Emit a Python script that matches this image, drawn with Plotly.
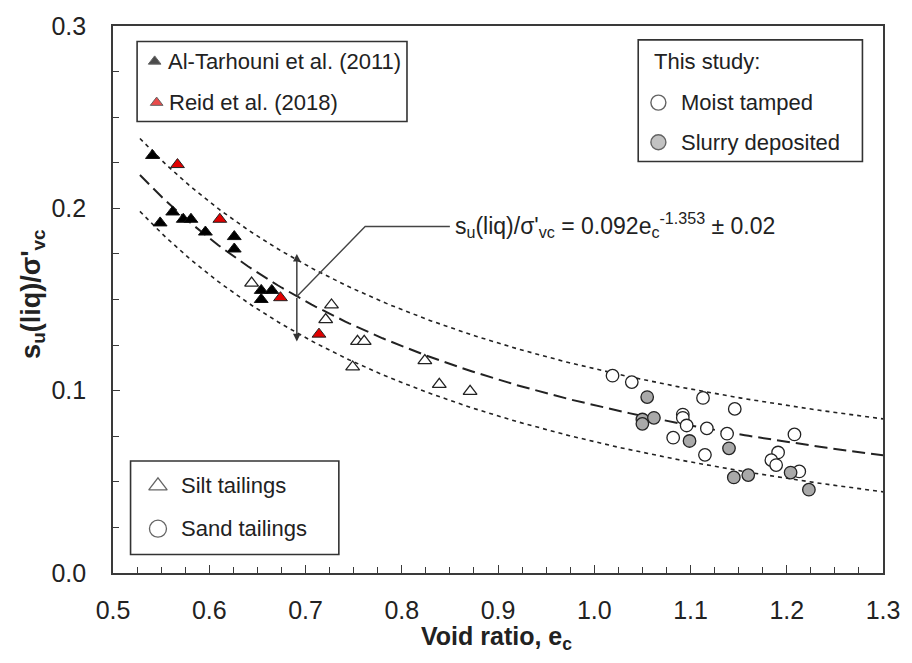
import numpy as np
import plotly.graph_objects as go

# ---------------- data ----------------
tarhouni_e = [0.541, 0.549, 0.562, 0.573, 0.581, 0.596, 0.626, 0.626, 0.654, 0.654, 0.665]
tarhouni_s = [0.229, 0.192, 0.198, 0.194, 0.194, 0.187, 0.1845, 0.1777, 0.155, 0.150, 0.155]

reid_e = [0.567, 0.611, 0.674, 0.714]
reid_s = [0.224, 0.194, 0.151, 0.131]

silt_e = [0.644, 0.727, 0.721, 0.754, 0.761, 0.749, 0.824, 0.839, 0.871]
silt_s = [0.159, 0.147, 0.139, 0.127, 0.127, 0.113, 0.1165, 0.1035, 0.0996]

moist_e = [1.019, 1.039, 1.113, 1.146, 1.092, 1.092, 1.096, 1.117, 1.138, 1.082,
           1.208, 1.115, 1.191, 1.184, 1.189, 1.213]
moist_s = [0.1082, 0.1047, 0.0960, 0.0900, 0.0869, 0.0851, 0.0809, 0.0793, 0.0764, 0.0742,
           0.0760, 0.0648, 0.0661, 0.0619, 0.0592, 0.0557]

slurry_e = [1.055, 1.050, 1.050, 1.062, 1.099, 1.140, 1.145, 1.160, 1.204, 1.223]
slurry_s = [0.0965, 0.0842, 0.0818, 0.0851, 0.0724, 0.0684, 0.0524, 0.0537, 0.0551, 0.0457]

# fitted relation: s = a * e^b  +/- band
fit_a, fit_b, fit_band = 0.092, -1.353, 0.02
fit_range = [0.528, 1.3]

x_ticks = [0.5, 0.6, 0.7, 0.8, 0.9, 1.0, 1.1, 1.2, 1.3]
y_ticks = [0.0, 0.1, 0.2, 0.3]

FONT = "Liberation Sans, Arial, sans-serif"
INK = "#222222"
AXC = "#3a3a3a"

fig = go.Figure()

# fit curves
ef = np.linspace(fit_range[0], fit_range[1], 200)
sf = fit_a * ef ** fit_b
fig.add_trace(go.Scatter(x=ef, y=sf + fit_band, mode="lines",
                         line=dict(color="#222", width=1.6, dash="4px,4px"), hoverinfo="skip"))
fig.add_trace(go.Scatter(x=ef, y=sf - fit_band, mode="lines",
                         line=dict(color="#222", width=1.6, dash="4px,4px"), hoverinfo="skip"))
fig.add_trace(go.Scatter(x=ef, y=sf, mode="lines",
                         line=dict(color="#222", width=2, dash="13px,6px"), hoverinfo="skip"))

# leader line for equation
arrow_e = 0.691
lead_x = [arrow_e, 0.762, 0.850]
lead_y = [fit_a * arrow_e ** fit_b, 0.190, 0.190]
fig.add_trace(go.Scatter(x=lead_x, y=lead_y, mode="lines",
                         line=dict(color="#444", width=1.4), hoverinfo="skip"))

# data markers
fig.add_trace(go.Scatter(x=silt_e, y=silt_s, mode="markers", name="Silt tailings",
                         marker=dict(symbol="triangle-up", size=12, color="white",
                                     line=dict(color="#222", width=1.3))))
fig.add_trace(go.Scatter(x=moist_e, y=moist_s, mode="markers", name="Moist tamped",
                         marker=dict(symbol="circle", size=12.5, color="white",
                                     line=dict(color="#222", width=1.3))))
fig.add_trace(go.Scatter(x=slurry_e, y=slurry_s, mode="markers", name="Slurry deposited",
                         marker=dict(symbol="circle", size=12.5, color="#a9a9a9",
                                     line=dict(color="#222", width=1.3))))
fig.add_trace(go.Scatter(x=tarhouni_e, y=tarhouni_s, mode="markers", name="Al-Tarhouni et al. (2011)",
                         marker=dict(symbol="triangle-up", size=12, color="black",
                                     line=dict(color="#111", width=1))))
fig.add_trace(go.Scatter(x=reid_e, y=reid_s, mode="markers", name="Reid et al. (2018)",
                         marker=dict(symbol="triangle-up", size=12, color="#e00000",
                                     line=dict(color="#222", width=1))))

# ---------- legend glyphs on an overlay (0..1) axis pair ----------
leg_x = [0.0541, 0.0567, 0.7083, 0.7083, 0.0584, 0.0584]
leg_y = [0.9353, 0.860, 0.860, 0.7875, 0.1594, 0.081]
leg_sym = ["triangle-up", "triangle-up", "circle", "circle", "triangle-up-open", "circle-open"]
leg_size = [11, 11, 15, 15, 16, 17]
leg_fill = ["black", "#e00000", "white", "#a9a9a9", "#222", "#222"]
leg_line = [1, 1, 1.4, 1.4, 1.3, 1.3]
fig.add_trace(go.Scatter(x=leg_x, y=leg_y, mode="markers", xaxis="x2", yaxis="y2",
                         marker=dict(symbol=leg_sym, size=leg_size, color=leg_fill,
                                     line=dict(color="#222", width=leg_line)),
                         hoverinfo="skip"))

shapes = [
    dict(type="rect", xref="paper", yref="paper", x0=0.0313, x1=0.3818, y0=0.8255, y1=0.9716,
         line=dict(color="#333", width=1.6), fillcolor="white", layer="below"),
    dict(type="rect", xref="paper", yref="paper", x0=0.6821, x1=0.9733, y0=0.7524, y1=0.9746,
         line=dict(color="#333", width=1.6), fillcolor="white", layer="below"),
    dict(type="rect", xref="paper", yref="paper", x0=0.0228, x1=0.2933, y0=0.0339, y1=0.2047,
         line=dict(color="#333", width=1.6), fillcolor="white", layer="below"),
]

lf = dict(family=FONT, size=22, color=INK)
annotations = [
    dict(x=0.0692, y=0.9353, text="Al-Tarhouni et al. (2011)"),
    dict(x=0.0696, y=0.860, text="Reid et al. (2018)"),
    dict(x=0.6997, y=0.9353, text="This study:"),
    dict(x=0.7349, y=0.860, text="Moist tamped"),
    dict(x=0.7349, y=0.7875, text="Slurry deposited"),
    dict(x=0.0854, y=0.1594, text="Silt tailings"),
    dict(x=0.0854, y=0.081, text="Sand tailings"),
]
for a in annotations:
    a.update(xref="paper", yref="paper", xanchor="left", yanchor="middle",
             showarrow=False, font=lf)

# equation
annotations.append(dict(x=0.853, y=0.191, xref="x", yref="y", xanchor="left", yanchor="middle",
                        showarrow=False, font=dict(family=FONT, size=23, color=INK),
                        text="s<sub>u</sub>(liq)/σ'<sub>vc</sub> = 0.092e<sub>c</sub><sup>-1.353</sup> ± 0.02"))
# double arrow
for tip in (0.175, 0.127):
    annotations.append(dict(x=arrow_e, y=tip, ax=arrow_e, ay=fit_a * arrow_e ** fit_b,
                            xref="x", yref="y", axref="x", ayref="y", text="",
                            showarrow=True, arrowhead=2, arrowsize=1.1, arrowwidth=1.4,
                            arrowcolor="#333"))
# axis titles
annotations.append(dict(x=0.4987, y=-0.118, xref="paper", yref="paper", showarrow=False,
                        xanchor="center", yanchor="middle",
                        font=dict(family=FONT, size=25, color=INK),
                        text="<b>Void ratio, e<sub>c</sub></b>"))
annotations.append(dict(x=-0.1048, y=0.509, xref="paper", yref="paper", showarrow=False,
                        xanchor="center", yanchor="middle", textangle=-90,
                        font=dict(family=FONT, size=27, color=INK),
                        text="<b>s<sub>u</sub>(liq)/σ'<sub>vc</sub></b>"))

fig.update_layout(
    width=912, height=663,
    margin=dict(l=113, r=23, t=21, b=90),
    paper_bgcolor="white", plot_bgcolor="white",
    showlegend=False,
    shapes=shapes,
    annotations=annotations,
    font=dict(family=FONT, color=INK),
    xaxis=dict(range=[0.5, 1.3], tickvals=x_ticks, ticktext=[f"{v:.1f}" for v in x_ticks],
               showgrid=False, zeroline=False, showline=True, linecolor=AXC, linewidth=1.6,
               mirror=True, ticks="inside", ticklen=8, tickwidth=1.3, tickcolor=AXC,
               tickfont=dict(family=FONT, size=25, color=INK), ticklabelstandoff=14,
               minor=dict(dtick=0.025, ticks="inside", ticklen=6, tickwidth=1.2, tickcolor=AXC)),
    yaxis=dict(range=[0, 0.3], tickvals=y_ticks, ticktext=[f"{v:.1f}" for v in y_ticks],
               showgrid=False, zeroline=False, showline=True, linecolor=AXC, linewidth=1.6,
               mirror=True, ticks="inside", ticklen=7, tickwidth=1.3, tickcolor=AXC,
               tickfont=dict(family=FONT, size=25, color=INK), ticklabelstandoff=20,
               minor=dict(dtick=0.025, ticks="inside", ticklen=6, tickwidth=1.2, tickcolor=AXC)),
    xaxis2=dict(range=[0, 1], overlaying="x", anchor="y2", visible=False),
    yaxis2=dict(range=[0, 1], overlaying="y", anchor="x2", visible=False),
)

fig.write_html("out.html")
